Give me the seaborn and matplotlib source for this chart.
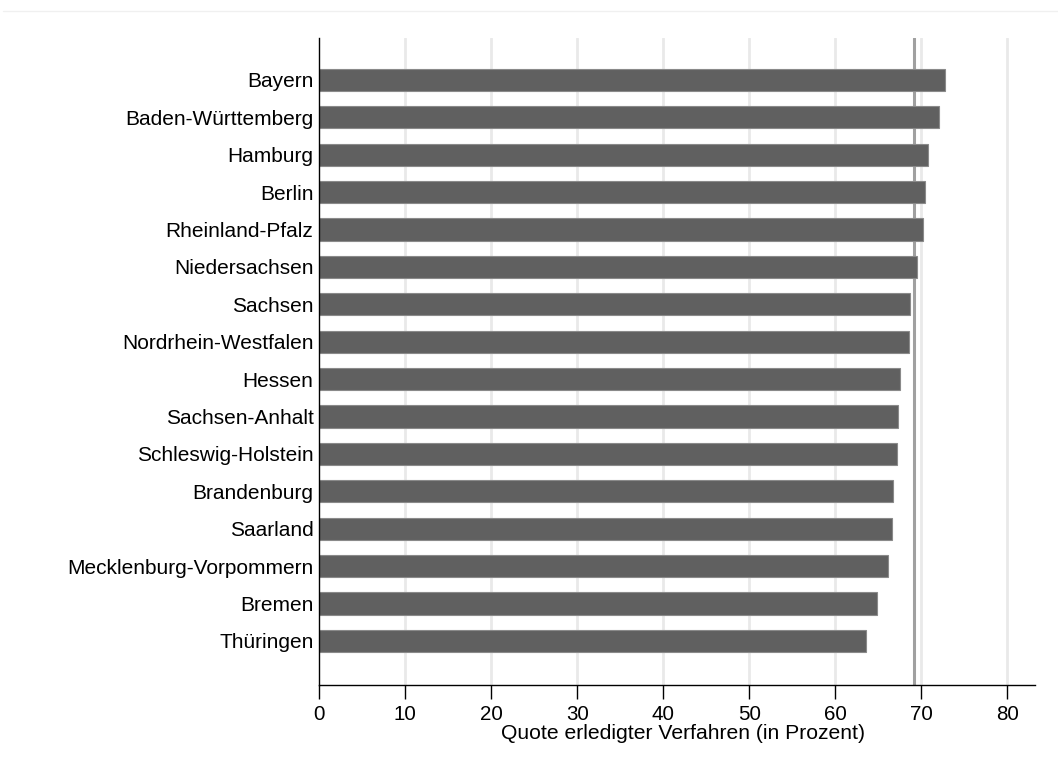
import matplotlib
matplotlib.use("Agg")
import matplotlib.pyplot as plt
import seaborn as sns
import pandas as pd

# Quote erledigter Verfahren je Bundesland
laender = ["Bayern", "Baden-Württemberg", "Hamburg", "Berlin", "Rheinland-Pfalz",
           "Niedersachsen", "Sachsen", "Nordrhein-Westfalen", "Hessen", "Sachsen-Anhalt",
           "Schleswig-Holstein", "Brandenburg", "Saarland", "Mecklenburg-Vorpommern",
           "Bremen", "Thüringen"]
quote = [72.8, 72.1, 70.8, 70.4, 70.2, 69.5, 68.7, 68.6, 67.5, 67.3,
         67.2, 66.7, 66.6, 66.1, 64.8, 63.6]
bund = 69.1
xticks = [0, 10, 20, 30, 40, 50, 60, 70, 80]

df = pd.DataFrame({"land": laender, "quote": quote})

sns.set_style("white")
plt.rcParams['font.family'] = ['Liberation Sans', 'DejaVu Sans']
plt.rcParams['text.color'] = 'black'
plt.rcParams['axes.labelcolor'] = 'black'
plt.rcParams['xtick.color'] = 'black'
plt.rcParams['ytick.color'] = 'black'

fig = plt.figure(figsize=(10.58, 7.7), dpi=100)
ax = fig.add_axes([319 / 1058, 85 / 770, (1035 - 319) / 1058, (685 - 38) / 770])

for t in xticks[1:]:
    ax.axvline(t, color="#e9e9e9", lw=2, zorder=0)
ax.axvline(bund, color="#a0a0a0", lw=2.2, zorder=1)

sns.barplot(data=df, x="quote", y="land", orient="h", color="#606060",
            saturation=1, width=0.59, edgecolor="#8a8a8a", linewidth=0.8,
            ax=ax, zorder=2)

ax.set_xlim(0, 83.2)
ax.set_ylim(15 + 1.18, -1.12)
ax.set_xticks(xticks)
ax.set_xlabel("Quote erledigter Verfahren (in Prozent)", fontsize=15.2, labelpad=0)
ax.xaxis.label.set_x(0.508)
ax.set_ylabel("")
ax.tick_params(axis="x", bottom=True, length=10, width=1, labelsize=14.8, pad=4.5)
ax.tick_params(axis="y", left=False, labelsize=15, pad=0.5)

for s in ["top", "right"]:
    ax.spines[s].set_visible(False)
for s in ["left", "bottom"]:
    ax.spines[s].set_color("black")
    ax.spines[s].set_linewidth(1)

# feiner Rahmen oben
fig.add_artist(plt.Line2D([3 / 1058, 1], [1 - 11 / 770, 1 - 11 / 770],
                          color="#f0f0f0", lw=1, transform=fig.transFigure))

fig.savefig("out.png", dpi=100, facecolor="white")
